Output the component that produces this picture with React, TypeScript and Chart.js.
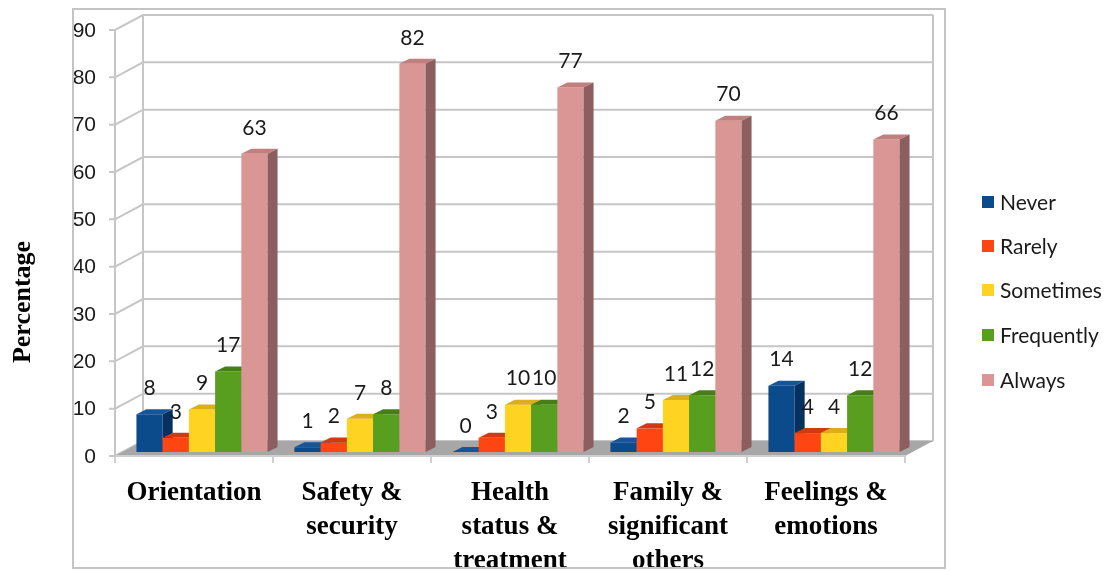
import React, { useEffect, useRef } from 'react';
import { Chart, registerables } from 'chart.js';

Chart.register(...registerables);

// Aspects of care (multi-line category labels)
const categories: string[][] = [
  ['Orientation'],
  ['Safety &', 'security'],
  ['Health', 'status &', 'treatment'],
  ['Family &', 'significant', 'others'],
  ['Feelings &', 'emotions'],
];

const seriesNames = ['Never', 'Rarely', 'Sometimes', 'Frequently', 'Always'];

const never = [8, 1, 0, 2, 14];
const rarely = [3, 2, 3, 5, 4];
const sometimes = [9, 7, 10, 11, 4];
const frequently = [17, 8, 10, 12, 12];
const always = [63, 82, 77, 70, 66];

const yTicks = [0, 10, 20, 30, 40, 50, 60, 70, 80, 90];

// front / top / side colours per series
const frontColors = ['#0b4a8b', '#ff4512', '#ffd322', '#589e1f', '#d99694'];
const topColors = ['#17559a', '#cf3a0e', '#dcae1a', '#467f17', '#c17f7e'];
const sideColors = ['#06305f', '#b2300a', '#b8900f', '#3c6c12', '#8c5e5e'];

// oblique projection of the walls and the bars
const WALL_DX = 28;
const WALL_DY = -15;
const BAR_SHIFT_X = 8;
const BAR_SHIFT_Y = -4;
const BAR_DX = 10;
const BAR_DY = -5;

const GRID = '#c6c6c6';

const excel3d = {
  id: 'excel3d',
  beforeDatasetsDraw(chart: any) {
    const { ctx, chartArea: a, scales } = chart;
    const xs = scales.x;
    const ys = scales.y;
    ctx.save();

    // gridlines on the side wall and the back wall, with small ticks
    ctx.strokeStyle = GRID;
    ctx.lineWidth = 2;
    for (const v of yTicks) {
      const py = ys.getPixelForValue(v);
      ctx.beginPath();
      ctx.moveTo(a.left - 6, py);
      ctx.lineTo(a.left, py);
      ctx.lineTo(a.left + WALL_DX, py + WALL_DY);
      ctx.lineTo(a.right + WALL_DX, py + WALL_DY);
      ctx.stroke();
    }
    const top = ys.getPixelForValue(90);
    const bottom = ys.getPixelForValue(0);
    ctx.beginPath();
    ctx.moveTo(a.left, top);
    ctx.lineTo(a.left, bottom);
    ctx.moveTo(a.left + WALL_DX, top + WALL_DY);
    ctx.lineTo(a.left + WALL_DX, bottom + WALL_DY);
    ctx.moveTo(a.right + WALL_DX, top + WALL_DY);
    ctx.lineTo(a.right + WALL_DX, bottom + WALL_DY);
    ctx.stroke();

    // floor
    ctx.fillStyle = '#a7a7a7';
    ctx.beginPath();
    ctx.moveTo(a.left, bottom);
    ctx.lineTo(a.right, bottom);
    ctx.lineTo(a.right + WALL_DX, bottom + WALL_DY);
    ctx.lineTo(a.left + WALL_DX, bottom + WALL_DY);
    ctx.closePath();
    ctx.fill();

    // category axis line and ticks at category boundaries
    ctx.strokeStyle = '#cfcfcf';
    ctx.lineWidth = 2;
    ctx.beginPath();
    ctx.moveTo(a.left, bottom);
    ctx.lineTo(a.right, bottom);
    const half = (xs.getPixelForValue(1) - xs.getPixelForValue(0)) / 2;
    for (let i = 0; i <= categories.length; i++) {
      const px = i < categories.length ? xs.getPixelForValue(i) - half : xs.getPixelForValue(i - 1) + half;
      ctx.moveTo(px, bottom);
      ctx.lineTo(px, bottom + 7);
    }
    ctx.stroke();

    // value tick labels
    ctx.fillStyle = '#1a1a1a';
    ctx.font = '21px "Liberation Sans", Arial, sans-serif';
    ctx.textAlign = 'right';
    ctx.textBaseline = 'middle';
    for (const v of yTicks) {
      ctx.fillText(String(v), 96, ys.getPixelForValue(v) + 1);
    }

    // category labels, cut off by the frame's bottom edge
    ctx.save();
    ctx.beginPath();
    ctx.rect(74, 10, 870, 557);
    ctx.clip();
    ctx.fillStyle = '#000';
    ctx.font = 'bold 27px "Liberation Serif", "Times New Roman", serif';
    ctx.textAlign = 'center';
    categories.forEach((lines, i) => {
      const cx = xs.getPixelForValue(i);
      lines.forEach((ln, k) => ctx.fillText(ln, cx, 493 + k * 34));
    });
    ctx.restore();

    // frame around the plot
    ctx.strokeStyle = '#c4c4c4';
    ctx.lineWidth = 2;
    ctx.strokeRect(73, 9, 872, 559);

    // axis title
    ctx.save();
    ctx.translate(23, 302);
    ctx.rotate(-Math.PI / 2);
    ctx.fillStyle = '#000';
    ctx.textAlign = 'center';
    ctx.font = 'bold 26px "Liberation Serif", "Times New Roman", serif';
    ctx.fillText('Percentage', 0, 0);
    ctx.restore();

    // legend
    const rows = [202, 246, 290, 335, 380];
    ctx.textAlign = 'left';
    ctx.textBaseline = 'middle';
    ctx.font = '21px Lato, "Open Sans", sans-serif';
    seriesNames.forEach((name, i) => {
      ctx.fillStyle = frontColors[i];
      ctx.fillRect(982, rows[i] - 6, 12, 12);
      ctx.fillStyle = '#1a1a1a';
      ctx.fillText(name, 1000, rows[i] + 1);
    });

    ctx.restore();
  },
  beforeDatasetDraw() {
    // bars are drawn as 3D blocks below, left to right
    return false;
  },
  afterDatasetsDraw(chart: any) {
    const { ctx } = chart;
    const metas = chart.data.datasets.map((_: any, i: number) => chart.getDatasetMeta(i));
    ctx.save();
    ctx.translate(BAR_SHIFT_X, BAR_SHIFT_Y);
    for (let d = 0; d < metas.length; d++) {
      for (const el of metas[d].data) {
        const { x, y, base, width } = el.getProps(['x', 'y', 'base', 'width'], true);
        const l = x - width / 2;
        const r = x + width / 2;
        // front face via the bar element itself
        el.draw(ctx, chart.chartArea);
        // top face
        ctx.fillStyle = topColors[d];
        ctx.beginPath();
        ctx.moveTo(l, y);
        ctx.lineTo(r, y);
        ctx.lineTo(r + BAR_DX, y + BAR_DY);
        ctx.lineTo(l + BAR_DX, y + BAR_DY);
        ctx.closePath();
        ctx.fill();
        // right side face
        ctx.fillStyle = sideColors[d];
        ctx.beginPath();
        ctx.moveTo(r, y);
        ctx.lineTo(r + BAR_DX, y + BAR_DY);
        ctx.lineTo(r + BAR_DX, base + BAR_DY);
        ctx.lineTo(r, base);
        ctx.closePath();
        ctx.fill();
      }
    }
    // value labels above each bar
    ctx.fillStyle = '#1a1a1a';
    ctx.font = '21px Lato, "Open Sans", sans-serif';
    ctx.textAlign = 'center';
    ctx.textBaseline = 'middle';
    for (let d = 0; d < metas.length; d++) {
      const values = chart.data.datasets[d].data;
      metas[d].data.forEach((el: any, j: number) => {
        const { x, y } = el.getProps(['x', 'y'], true);
        ctx.fillText(String(values[j]), x, y - 26);
      });
    }
    ctx.restore();
  },
};

export default function App() {
  const canvasRef = useRef<HTMLCanvasElement | null>(null);

  useEffect(() => {
    document.body.style.margin = '0';
    const canvas = canvasRef.current;
    if (!canvas) return;
    const series = [never, rarely, sometimes, frequently, always];
    const chart = new Chart(canvas, {
      type: 'bar',
      data: {
        labels: categories,
        datasets: series.map((data, i) => ({
          label: seriesNames[i],
          data,
          backgroundColor: frontColors[i],
          borderWidth: 0,
          categoryPercentage: 0.83,
          barPercentage: 1,
        })),
      },
      options: {
        responsive: false,
        animation: false,
        devicePixelRatio: 1,
        layout: { padding: { left: 115, top: 30, right: 205, bottom: 115 } },
        plugins: { legend: { display: false }, tooltip: { enabled: false } },
        scales: {
          x: { display: false, offset: true },
          y: { display: false, min: 0, max: 90 },
        },
      },
      plugins: [excel3d],
    });
    return () => chart.destroy();
  }, []);

  return <canvas ref={canvasRef} width={1110} height={571} style={{ display: 'block' }} />;
}
